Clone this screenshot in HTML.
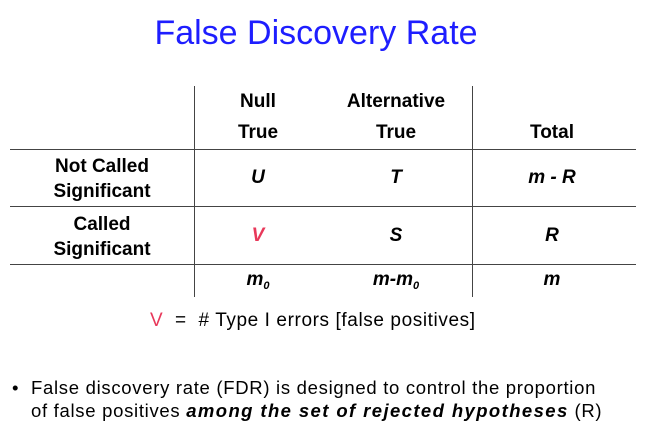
<!DOCTYPE html>
<html><head><meta charset="utf-8"><style>
body{margin:0;width:646px;height:439px;background:#fff;position:relative;overflow:hidden;font-family:"Liberation Sans",sans-serif;}
.a{position:absolute;white-space:nowrap;}
.h{font-weight:bold;font-size:19px;color:#000;transform:translateX(-50%);}
.i{font-style:italic;}
.ln{position:absolute;background:#444;}
sub{font-size:11px;vertical-align:-4px;}
</style></head><body>
<div class="a" style="left:316px;top:14px;transform:translateX(-50%);font-size:34px;color:#1e1eff;">False Discovery Rate</div>

<div>
<div class="ln" style="left:194px;top:86px;width:1px;height:211px"></div>
<div class="ln" style="left:472px;top:86px;width:1px;height:211px"></div>
<div class="ln" style="left:10px;top:149px;width:626px;height:1px"></div>
<div class="ln" style="left:10px;top:206px;width:626px;height:1px"></div>
<div class="ln" style="left:10px;top:264px;width:626px;height:1px"></div>

<div class="a h" style="left:258px;top:91px">Null</div>
<div class="a h" style="left:258px;top:122px">True</div>
<div class="a h" style="left:396px;top:91px">Alternative</div>
<div class="a h" style="left:396px;top:122px">True</div>
<div class="a h" style="left:552px;top:122px">Total</div>

<div class="a h" style="left:102px;top:154px;line-height:25px;text-align:center">Not Called<br>Significant</div>
<div class="a h" style="left:102px;top:212px;line-height:25px;text-align:center">Called<br>Significant</div>

<div class="a h i" style="left:258px;top:167px">U</div>
<div class="a h i" style="left:396px;top:167px">T</div>
<div class="a h i" style="left:552px;top:167px">m - R</div>
<div class="a h i" style="left:258px;top:225px;color:#e8385a">V</div>
<div class="a h i" style="left:396px;top:225px">S</div>
<div class="a h i" style="left:552px;top:225px">R</div>
<div class="a h i" style="left:258px;top:269px">m<sub>0</sub></div>
<div class="a h i" style="left:396px;top:269px">m-m<sub>0</sub></div>
<div class="a h i" style="left:552px;top:269px">m</div>
</div>

<div class="a" style="left:150px;top:310px;font-size:19px;letter-spacing:0.6px"><span style="color:#e8385a">V</span>&nbsp;&nbsp;=&nbsp; # Type I errors [false positives]</div>

<div class="a" style="left:12px;top:376px;font-size:18.5px;line-height:23px">•</div>
<div class="a" style="left:31px;top:376px;font-size:18.5px;line-height:23px;letter-spacing:0.7px">False discovery rate (FDR) is designed to control the proportion<br>of false positives <b style="letter-spacing:1.4px"><i>among the set of rejected hypotheses</i></b> (R)</div>
</body></html>
